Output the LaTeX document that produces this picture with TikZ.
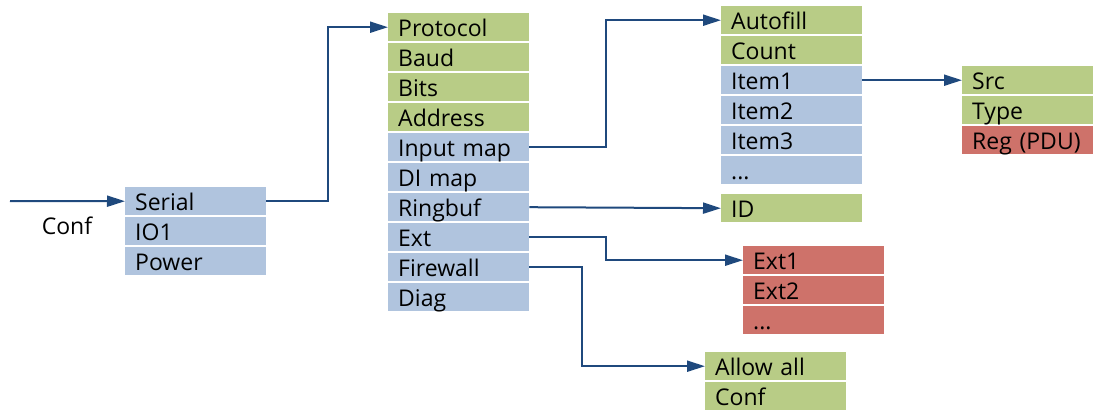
\documentclass[tikz,border=0pt]{standalone}
\usepackage{fontspec}
\setmainfont{Open Sans}
\usetikzlibrary{arrows.meta}
\definecolor{cellgreen}{RGB}{184,204,134}
\definecolor{cellblue}{RGB}{176,196,222}
\definecolor{cellred}{RGB}{206,114,106}
\definecolor{linkblue}{RGB}{31,73,125}
\begin{document}
\begin{tikzpicture}[x=1pt, y=-1pt,
	cell/.style = {anchor = north west, minimum width = 141pt, minimum height = 28pt, text width = 121pt, inner xsep = 10pt, inner ysep = 0pt, text height = 18pt, text depth = 0pt, align = left, font = \fontsize{23}{26}\selectfont},
	green/.style = {cell, fill = cellgreen},
	blue/.style = {cell, fill = cellblue},
	red/.style = {cell, fill = cellred},
	link/.style = {draw = linkblue, line width = 2pt, -{Triangle[length = 18pt, width = 11pt]}}]
				\useasboundingbox (0,0) rectangle (1094,410);
				% level 1
				\coordinate (confin) at (10,201);
				\node (conf) at (67,226) [font = \fontsize{23}{26}\selectfont] {Conf};
				\node (serial) at (125,187) [blue] {Serial};
				\node (io1) at (125,217) [blue] {IO1};
				\node (power) at (125,247) [blue] {Power};
				% level 2
				\node (protocol) at (388,13) [green] {Protocol};
				\node (baud) at (388,43) [green] {Baud};
				\node (bits) at (388,73) [green] {Bits};
				\node (address) at (388,103) [green] {Address};
				\node (inputmap) at (388,133) [blue] {Input map};
				\node (dimap) at (388,163) [blue] {DI map};
				\node (ringbuf) at (388,193) [blue] {Ringbuf};
				\node (ext) at (388,223) [blue] {Ext};
				\node (firewall) at (388,253) [blue] {Firewall};
				\node (diag) at (388,283) [blue] {Diag};
				% input map
				\node (autofill) at (721,6) [green] {Autofill};
				\node (count) at (721,36) [green] {Count};
				\node (item1) at (721,66) [blue] {Item1};
				\node (item2) at (721,96) [blue] {Item2};
				\node (item3) at (721,126) [blue] {Item3};
				\node (itemdots) at (721,156) [blue] {...};
				\node (id) at (721,194) [green] {ID};
				% item
				\node (src) at (962,66) [green, minimum width = 131pt, text width = 111pt] {Src};
				\node (type) at (962,96) [green, minimum width = 131pt, text width = 111pt] {Type};
				\node (reg) at (962,126) [red, minimum width = 131pt, text width = 111pt] {Reg (PDU)};
				% ext
				\node (ext1) at (743,246) [red] {Ext1};
				\node (ext2) at (743,276) [red] {Ext2};
				\node (extdots) at (743,306) [red] {...};
				% firewall
				\node (allowall) at (705,352) [green] {Allow all};
				\node (fwconf) at (705,382) [green] {Conf};
				\draw[link] (confin) -- (serial.west);
				\draw[link] (serial.east) -- ++(62,0) |- (protocol.west);
				\draw[link] (inputmap.east) -- ++(77,0) |- (autofill.west);
				\draw[link] (ringbuf.east) -- (id.west);
				\draw[link] (ext.east) -- ++(77,0) |- (ext1.west);
				\draw[link] (firewall.east) -- ++(53,0) |- (allowall.west);
				\draw[link] (item1.east) -- (src.west);
				\end{tikzpicture}
\end{document}
